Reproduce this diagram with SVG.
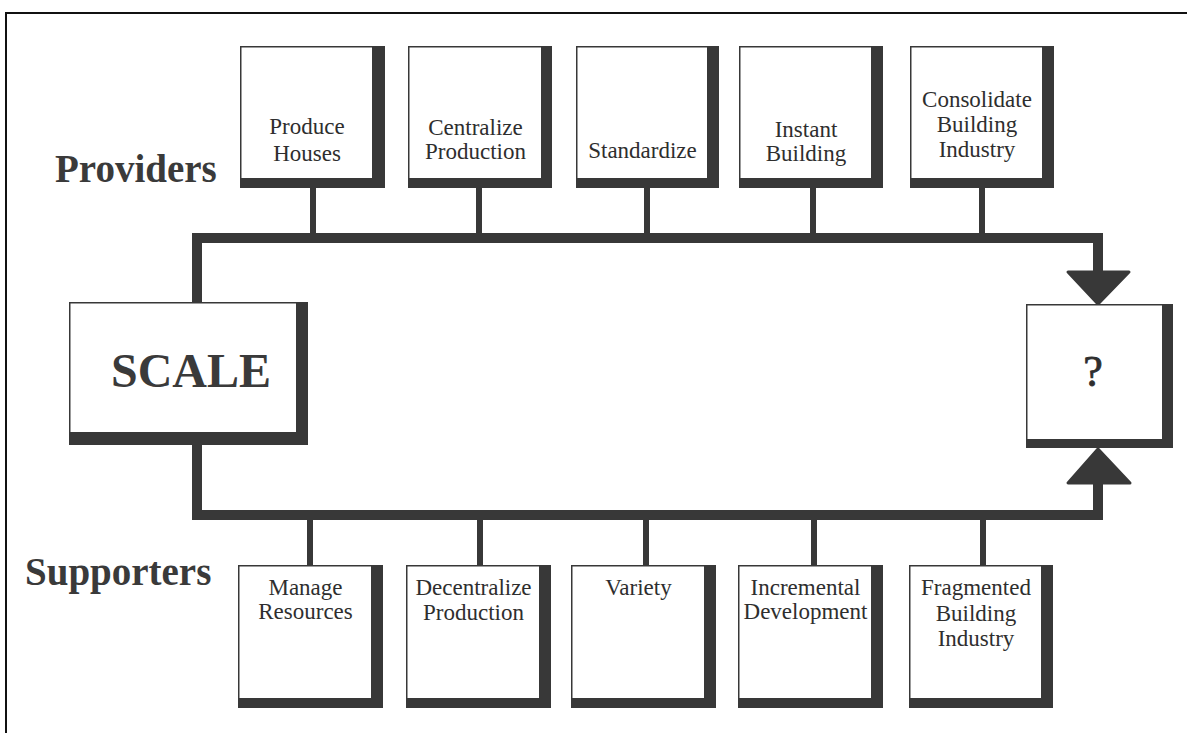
<svg xmlns="http://www.w3.org/2000/svg" width="1187" height="733" viewBox="0 0 1187 733">
<style>
.sh{fill:#383838}
.wb{fill:#fff;stroke:#383838;stroke-width:1.5}
.t{font-family:"Liberation Serif","Times New Roman",serif;font-size:23px;fill:#2e2e2e;text-anchor:middle}
.big{font-family:"Liberation Serif","Times New Roman",serif;font-weight:bold;fill:#3a3a3a}
.bus{fill:none;stroke:#383838;stroke-width:10;stroke-linejoin:miter}
.con{stroke:#383838;stroke-width:6}
.ah{fill:#383838;stroke:#383838;stroke-width:3;stroke-linejoin:round}
</style>
<rect width="1187" height="733" fill="#fff"/>
<path d="M6,733 V13 H1187" fill="none" stroke="#111" stroke-width="2"/>
<text class="big" x="55" y="182" font-size="39">Providers</text>
<text class="big" x="25" y="585" font-size="39">Supporters</text>
<g id="connectors">
<path class="bus" d="M197,303 V238 H1098 V272"/>
<path class="bus" d="M197,445 V515 H1098 V483"/>
<polygon class="ah" points="1068,272 1129,272 1098,304"/>
<polygon class="ah" points="1068,483 1130,483 1098,449"/>
<line class="con" x1="313" y1="186" x2="313" y2="238"/>
<line class="con" x1="479" y1="186" x2="479" y2="238"/>
<line class="con" x1="647" y1="186" x2="647" y2="238"/>
<line class="con" x1="813" y1="186" x2="813" y2="238"/>
<line class="con" x1="982" y1="186" x2="982" y2="238"/>
<line class="con" x1="310" y1="515" x2="310" y2="568"/>
<line class="con" x1="480" y1="515" x2="480" y2="568"/>
<line class="con" x1="646" y1="515" x2="646" y2="568"/>
<line class="con" x1="814" y1="515" x2="814" y2="568"/>
<line class="con" x1="983" y1="515" x2="983" y2="568"/>
</g>
<g id="scale">
<rect class="sh" x="69" y="302" width="239" height="143"/>
<rect class="wb" x="69.75" y="302.75" width="227" height="130"/>
<text class="big" x="191" y="387" font-size="48" text-anchor="middle">SCALE</text>
</g>
<g id="result">
<rect class="sh" x="1026" y="304" width="147" height="144"/>
<rect class="wb" x="1026.75" y="304.75" width="136" height="135"/>
<text class="t" x="1093" y="386" style="font-size:44px;stroke:#2e2e2e;stroke-width:0.8">?</text>
</g>
<g id="produce-houses">
<rect class="sh" x="240" y="46" width="145" height="142"/>
<rect class="wb" x="240.75" y="46.75" width="132" height="132"/>
<text class="t" x="307" y="134">Produce</text>
<text class="t" x="307" y="161">Houses</text>
</g>
<g id="centralize-production">
<rect class="sh" x="408" y="46" width="144" height="142"/>
<rect class="wb" x="408.75" y="46.75" width="133" height="132"/>
<text class="t" x="475.5" y="135">Centralize</text>
<text class="t" x="475.5" y="159">Production</text>
</g>
<g id="standardize">
<rect class="sh" x="576" y="46" width="143" height="142"/>
<rect class="wb" x="576.75" y="46.75" width="131" height="132"/>
<text class="t" x="642.5" y="158">Standardize</text>
</g>
<g id="instant-building">
<rect class="sh" x="739" y="46" width="144" height="142"/>
<rect class="wb" x="739.75" y="46.75" width="132" height="132"/>
<text class="t" x="806" y="137">Instant</text>
<text class="t" x="806" y="161">Building</text>
</g>
<g id="consolidate">
<rect class="sh" x="910" y="46" width="144" height="142"/>
<rect class="wb" x="910.75" y="46.75" width="132" height="132"/>
<text class="t" x="977" y="107">Consolidate</text>
<text class="t" x="977" y="132">Building</text>
<text class="t" x="977" y="157">Industry</text>
</g>
<g id="manage-resources">
<rect class="sh" x="238" y="565" width="145" height="143"/>
<rect class="wb" x="238.75" y="565.75" width="133" height="133"/>
<text class="t" x="305.5" y="595">Manage</text>
<text class="t" x="305.5" y="619">Resources</text>
</g>
<g id="decentralize-production">
<rect class="sh" x="406" y="565" width="145" height="143"/>
<rect class="wb" x="406.75" y="565.75" width="133" height="133"/>
<text class="t" x="473.5" y="595">Decentralize</text>
<text class="t" x="473.5" y="620">Production</text>
</g>
<g id="variety">
<rect class="sh" x="571" y="565" width="145" height="143"/>
<rect class="wb" x="571.75" y="565.75" width="133" height="133"/>
<text class="t" x="638.5" y="595">Variety</text>
</g>
<g id="incremental-development">
<rect class="sh" x="738" y="565" width="145" height="143"/>
<rect class="wb" x="738.75" y="565.75" width="133" height="133"/>
<text class="t" x="805.5" y="595">Incremental</text>
<text class="t" x="805.5" y="619">Development</text>
</g>
<g id="fragmented">
<rect class="sh" x="909" y="565" width="144" height="143"/>
<rect class="wb" x="909.75" y="565.75" width="132" height="133"/>
<text class="t" x="976" y="595">Fragmented</text>
<text class="t" x="976" y="621">Building</text>
<text class="t" x="976" y="646">Industry</text>
</g>
</svg>
